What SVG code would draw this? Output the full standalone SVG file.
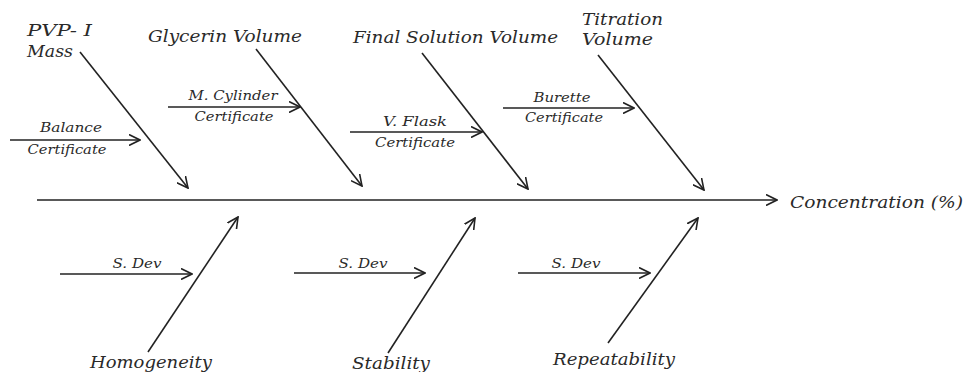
<svg xmlns="http://www.w3.org/2000/svg" width="964" height="372" viewBox="0 0 964 372">
<style>
.ln{stroke:#222;stroke-width:1.6;fill:none}
.big{font-family:"DejaVu Serif","Liberation Serif",serif;font-style:italic;font-size:16px;fill:#2a2a2a}
.sm{font-family:"DejaVu Serif","Liberation Serif",serif;font-style:italic;font-size:12.5px;fill:#2a2a2a;text-anchor:middle}
</style>
<defs>
<marker id="ah" viewBox="0 0 12 12" refX="11" refY="6" markerWidth="12" markerHeight="12" markerUnits="userSpaceOnUse" orient="auto">
<path d="M0,0.5 L11,6 L0,11.5" fill="none" stroke="#222" stroke-width="1.6"/>
</marker>
</defs>
<rect width="964" height="372" fill="#fff"/>
<g id="connectors">
<line class="ln" x1="37" y1="200" x2="777" y2="200" marker-end="url(#ah)"/>
<line class="ln" x1="80" y1="52" x2="188" y2="188" marker-end="url(#ah)"/>
<line class="ln" x1="256" y1="49" x2="362" y2="186" marker-end="url(#ah)"/>
<line class="ln" x1="422" y1="53" x2="528" y2="189" marker-end="url(#ah)"/>
<line class="ln" x1="598" y1="55" x2="704" y2="190" marker-end="url(#ah)"/>
<line class="ln" x1="10" y1="140" x2="140" y2="140" marker-end="url(#ah)"/>
<line class="ln" x1="168" y1="107" x2="300" y2="107" marker-end="url(#ah)"/>
<line class="ln" x1="350" y1="132" x2="482" y2="132" marker-end="url(#ah)"/>
<line class="ln" x1="503" y1="108" x2="634" y2="108" marker-end="url(#ah)"/>
<line class="ln" x1="148" y1="352" x2="238" y2="217" marker-end="url(#ah)"/>
<line class="ln" x1="388" y1="353" x2="475" y2="218" marker-end="url(#ah)"/>
<line class="ln" x1="608" y1="343" x2="698" y2="218" marker-end="url(#ah)"/>
<line class="ln" x1="60" y1="274" x2="192" y2="274" marker-end="url(#ah)"/>
<line class="ln" x1="294" y1="273" x2="425" y2="273" marker-end="url(#ah)"/>
<line class="ln" x1="518" y1="273" x2="650" y2="273" marker-end="url(#ah)"/>
</g>
<g id="effect"><text class="big" x="790" y="208" textLength="173" lengthAdjust="spacingAndGlyphs">Concentration (%)</text></g>
<g id="pvp">
<text class="big" x="27" y="36" textLength="65" lengthAdjust="spacingAndGlyphs">PVP- I</text>
<text class="big" x="27" y="57" textLength="46" lengthAdjust="spacingAndGlyphs">Mass</text>
</g>
<g id="balance">
<text class="sm" x="71" y="132" textLength="62" lengthAdjust="spacingAndGlyphs">Balance</text>
<text class="sm" x="67" y="154" textLength="79" lengthAdjust="spacingAndGlyphs">Certificate</text>
</g>
<g id="glycerin"><text class="big" x="148" y="42" textLength="154" lengthAdjust="spacingAndGlyphs">Glycerin Volume</text></g>
<g id="mcylinder">
<text class="sm" x="233" y="100" textLength="89" lengthAdjust="spacingAndGlyphs">M. Cylinder</text>
<text class="sm" x="234" y="121" textLength="79" lengthAdjust="spacingAndGlyphs">Certificate</text>
</g>
<g id="finalsolution"><text class="big" x="353" y="43" textLength="205" lengthAdjust="spacingAndGlyphs">Final Solution Volume</text></g>
<g id="vflask">
<text class="sm" x="415" y="126" textLength="64" lengthAdjust="spacingAndGlyphs">V. Flask</text>
<text class="sm" x="415" y="147" textLength="80" lengthAdjust="spacingAndGlyphs">Certificate</text>
</g>
<g id="titration">
<text class="big" x="582" y="25" textLength="81" lengthAdjust="spacingAndGlyphs">Titration</text>
<text class="big" x="582" y="45" textLength="71" lengthAdjust="spacingAndGlyphs">Volume</text>
</g>
<g id="burette">
<text class="sm" x="562" y="102" textLength="57" lengthAdjust="spacingAndGlyphs">Burette</text>
<text class="sm" x="564" y="122" textLength="78" lengthAdjust="spacingAndGlyphs">Certificate</text>
</g>
<g id="homogeneity"><text class="big" x="90" y="368" textLength="122" lengthAdjust="spacingAndGlyphs">Homogeneity</text></g>
<g id="sdev1"><text class="sm" x="137" y="268" textLength="49" lengthAdjust="spacingAndGlyphs">S. Dev</text></g>
<g id="stability"><text class="big" x="352" y="369" textLength="78" lengthAdjust="spacingAndGlyphs">Stability</text></g>
<g id="sdev2"><text class="sm" x="363" y="268" textLength="49" lengthAdjust="spacingAndGlyphs">S. Dev</text></g>
<g id="repeatability"><text class="big" x="553" y="365" textLength="122" lengthAdjust="spacingAndGlyphs">Repeatability</text></g>
<g id="sdev3"><text class="sm" x="576" y="268" textLength="49" lengthAdjust="spacingAndGlyphs">S. Dev</text></g>
</svg>
